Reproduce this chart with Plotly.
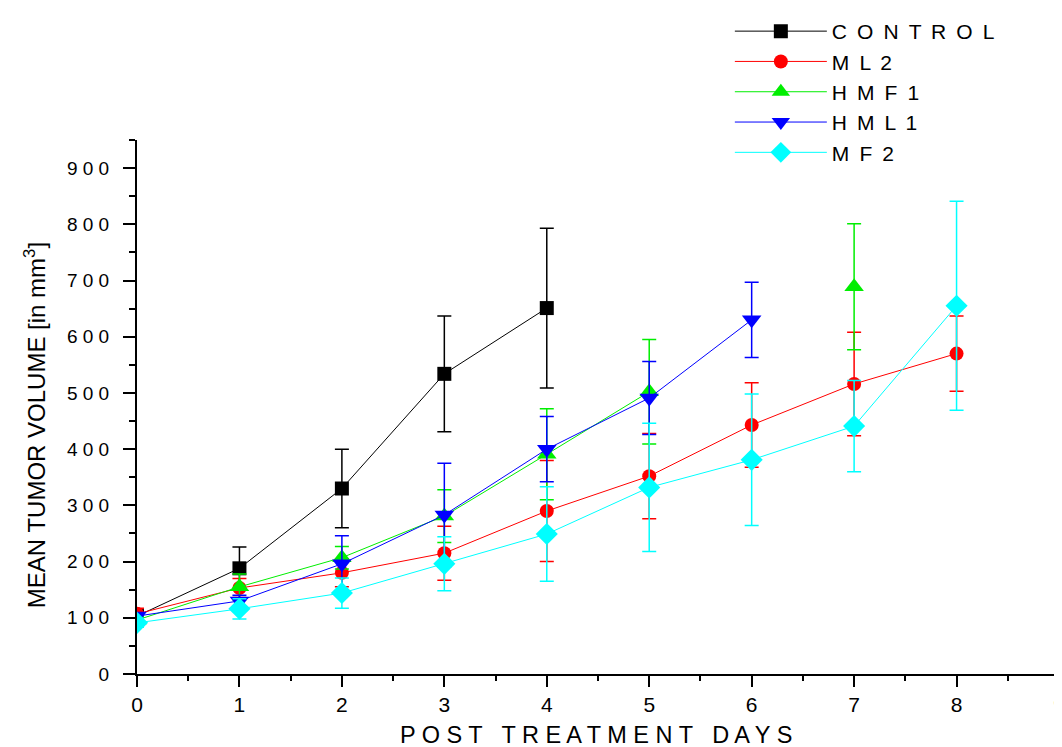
import plotly.graph_objects as go

days = [0, 1, 2, 3, 4, 5, 6, 7, 8]

control_y = [103, 188, 330, 534, 651]
control_err = [8, 38, 70, 103, 142]

ml2_y = [107, 153, 180, 215, 290, 352, 443, 516, 570]
ml2_err = [10, 17, 25, 48, 90, 76, 75, 92, 67]

hmf1_y = [96, 155, 207, 281, 391, 502, None, 689]
hmf1_err = [6, 23, 20, 47, 81, 93, None, 112]

hml1_y = [103, 130, 196, 283, 400, 491, 630]
hml1_err = [6, 10, 50, 92, 58, 65, 67]

mf2_y = [91, 116, 144, 196, 249, 332, 381, 441, 655]
mf2_err = [8, 18, 27, 48, 84, 114, 117, 81, 186]

names = ["CONTROL", "ML2", "HMF1", "HML1", "MF2"]
sp = " \u2009"
series = [
    (sp.join(names[0]), control_y, control_err, "#000000", "square", 14),
    (sp.join(names[1]), ml2_y, ml2_err, "#ff0000", "circle", 14),
    (sp.join(names[2]), hmf1_y, hmf1_err, "#00ee00", "triangle-up", 17),
    (sp.join(names[3]), hml1_y, hml1_err, "#0000ff", "triangle-down", 17),
    (sp.join(names[4]), mf2_y, mf2_err, "#00ffff", "diamond", 17),
]

y_ticks = [0, 100, 200, 300, 400, 500, 600, 700, 800, 900]
y_ticktext = [" ".join(str(v)) for v in y_ticks]
x_ticks = [0, 1, 2, 3, 4, 5, 6, 7, 8, 9]

x_title = "P O S T   T R E A T M E N T   D A Y S"
y_title = "MEAN TUMOR VOLUME [in mm<sup>3</sup>]"

fig = go.Figure()
for name, ys, errs, color, sym, size in series:
    fig.add_trace(go.Scatter(
        x=days[:len(ys)], y=ys, name=name, mode="lines+markers",
        connectgaps=False,
        line=dict(color=color, width=1),
        marker=dict(symbol=sym, size=size, color=color),
        error_y=dict(type="data", array=errs, visible=True, color=color,
                     thickness=1.5, width=7),
    ))

fig.update_layout(
    width=1062, height=747,
    margin=dict(l=129, r=11, t=132, b=81, autoexpand=False),
    plot_bgcolor="white", paper_bgcolor="white",
    font=dict(family="Liberation Sans, Arial, sans-serif", color="black"),
    legend=dict(x=0.643, y=1.2416, xanchor="left", yanchor="top",
                font=dict(size=21, family="Liberation Sans, Arial"),
                itemwidth=92, tracegroupgap=0, bgcolor="rgba(0,0,0,0)"),
    showlegend=True,
    annotations=[
        dict(text=x_title, x=0.498, y=0, xref="paper", yref="paper",
             xanchor="center", yanchor="middle", yshift=-61, showarrow=False,
             font=dict(size=23.5)),
        dict(text=y_title, x=0, y=0.466, xref="paper", yref="paper",
             xanchor="center", yanchor="middle", xshift=-102, textangle=-90, showarrow=False,
             font=dict(size=24)),
    ],
)
fig.update_xaxes(
    range=[0, 9], tickvals=x_ticks, showgrid=False, zeroline=False, automargin=False,
    showline=True, linecolor="black", linewidth=2,
    ticks="outside", ticklen=11, tickwidth=2, tickcolor="black",
    minor=dict(dtick=0.5, ticks="outside", ticklen=5, tickwidth=1.5, tickcolor="black"),
    tickfont=dict(size=21),
)
fig.update_yaxes(
    range=[0, 950], tickvals=y_ticks, ticktext=y_ticktext, showgrid=False, zeroline=False,
    automargin=False,
    showline=True, linecolor="black", linewidth=2,
    ticks="outside", ticklen=12, tickwidth=2, tickcolor="black",
    minor=dict(dtick=50, ticks="outside", ticklen=6, tickwidth=1.5, tickcolor="black"),
    tickfont=dict(size=19), ticklabelstandoff=10,
)

fig.write_html("out.html")
